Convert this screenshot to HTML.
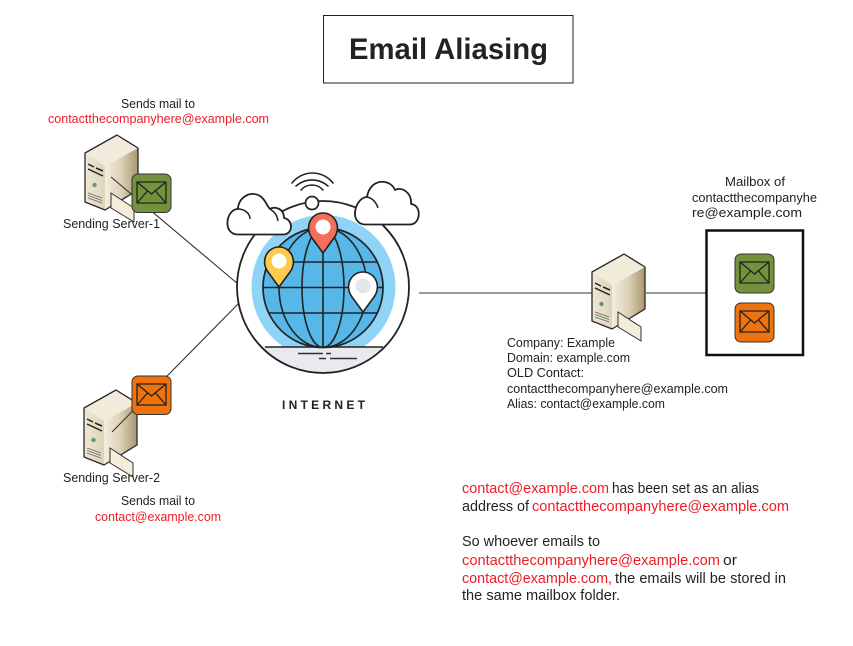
<!DOCTYPE html>
<html><head><meta charset="utf-8"><style>
html,body{margin:0;padding:0;background:#fff}
svg{display:block}
text{font-family:"Liberation Sans",sans-serif;fill:#222}
.s{font-size:13px}.b{font-size:14.8px}.r{fill:#ee1c25}
</style></head><body>
<svg width="853" height="646" viewBox="0 0 853 646" xmlns="http://www.w3.org/2000/svg">
<defs>
<linearGradient id="sf" x1="0" x2="1" y1="0" y2="0"><stop offset="0" stop-color="#efe8d6"/><stop offset="1" stop-color="#ddd3ba"/></linearGradient>
<linearGradient id="ss" x1="0" x2="1" y1="0" y2="0"><stop offset="0" stop-color="#f3eee0"/><stop offset=".5" stop-color="#dcd1b6"/><stop offset="1" stop-color="#a8966f"/></linearGradient>
<g id="srv">
<path d="M20 31 L53 13 L53 55 L20 75Z" fill="url(#ss)"/>
<path d="M0 18 L32 0 L53 13 L20 31Z" fill="#f1ebdb"/>
<path d="M0 18 L20 31 L20 75 L0 67Z" fill="url(#sf)"/>
<path d="M0 18 L32 0 L53 13 L53 55 L20 75 L0 67Z" fill="none" stroke="#2a2a2a" stroke-width="1.300" stroke-linejoin="round"/>
<path d="M3 29 L9 32 M11 33 L18 36 M3 34 L18 41" stroke="#222" stroke-width="1.500" fill="none"/>
<circle cx="9.500" cy="50" r="1.900" fill="#4f9c7c" stroke="#888" stroke-width=".6"/>
<path d="M3 58 L17 63 M3 60.500 L17 65.500 M3 63 L17 68" stroke="#666" stroke-width=".7"/>
<path d="M26 58 L49 73 L49 87 L26 73Z" fill="#f3edd9" stroke="#333" stroke-width="1"/>
</g>
<g id="env">
<path d="M5 8 H34 V29 H5Z M5 8 L19.500 20 L34 8 M5 29 L15.500 17 M34 29 L23.500 17" fill="none" stroke="#222" stroke-width="1.300"/>
</g>
<clipPath id="oc"><circle cx="323" cy="287" r="86"/></clipPath>
<clipPath id="gc"><circle cx="323" cy="287.500" r="60"/></clipPath>
</defs>

<rect x="323.500" y="15.500" width="249.500" height="67.500" fill="#fff" stroke="#222" stroke-width="1"/>
<text x="349" y="59" font-size="30" font-weight="bold" fill="#111" textLength="199" lengthAdjust="spacingAndGlyphs">Email Aliasing</text>

<text class="s" x="121" y="108" textLength="74" lengthAdjust="spacingAndGlyphs">Sends mail to</text>
<text class="s r" x="48" y="123" textLength="221" lengthAdjust="spacingAndGlyphs">contactthecompanyhere@example.com</text>

<use href="#srv" x="85" y="135"/>
<use href="#srv" x="84" y="390"/>
<use href="#srv" x="592" y="254"/>

<g stroke="#333" stroke-width="1.100" fill="none">
<path d="M111 177 L238 284"/>
<path d="M112 432 L239 303"/>
<path d="M419 293 H592"/>
<path d="M646 293 H706"/>
</g>

<rect x="132" y="174" width="39" height="38.500" rx="6" fill="#74923c" stroke="#333" stroke-width="1"/>
<use href="#env" x="132" y="174"/>
<rect x="132" y="376" width="39" height="38.500" rx="6" fill="#ee720e" stroke="#333" stroke-width="1"/>
<use href="#env" x="132" y="376"/>

<text class="s" x="63" y="228" textLength="97" lengthAdjust="spacingAndGlyphs">Sending Server-1</text>
<text class="s" x="63" y="482" textLength="97" lengthAdjust="spacingAndGlyphs">Sending Server-2</text>
<text class="s" x="121" y="505" textLength="74" lengthAdjust="spacingAndGlyphs">Sends mail to</text>
<text class="s r" x="95" y="521" textLength="126" lengthAdjust="spacingAndGlyphs">contact@example.com</text>

<!-- globe -->
<circle cx="323" cy="287" r="86" fill="#fff"/>
<circle cx="323.500" cy="287" r="72" fill="#8fd3f7" clip-path="url(#oc)"/>
<circle cx="323" cy="287.500" r="60" fill="#56b7e8"/>
<rect x="230" y="347" width="190" height="30" fill="#e8eaf0" clip-path="url(#oc)"/>
<g clip-path="url(#gc)" fill="none" stroke="#222" stroke-width="1.600">
<ellipse cx="323" cy="287.500" rx="44" ry="60"/>
<ellipse cx="323" cy="287.500" rx="21" ry="60"/>
<path d="M323 227 V348 M260 262 H386 M260 287.500 H386 M260 313 H386"/>
</g>
<circle cx="323" cy="287.500" r="60" fill="none" stroke="#222" stroke-width="1.700"/>
<path d="M265 347 H383" stroke="#222" stroke-width="1.500"/>
<path d="M298 353.500 H323 M326 353.500 H331 M319 358.500 H326 M330 358.500 H357" stroke="#333" stroke-width="1.500"/>
<circle cx="323" cy="287" r="86" fill="none" stroke="#222" stroke-width="1.800"/>

<!-- wifi -->
<circle cx="312" cy="203" r="6.500" fill="#fff" stroke="#222" stroke-width="1.700"/>
<g fill="none" stroke="#222" stroke-width="1.600" stroke-linecap="round">
<path d="M292 183 A26 26 0 0 1 333 183"/>
<path d="M296 186 A24 24 0 0 1 328 186"/>
<path d="M301 190 A14.600 14.600 0 0 1 323 190"/>
</g>

<!-- clouds -->
<path d="M238 234.500 H283 C293 234.500 294 220 284 218 C284 208 274 206 270 209 C266 205 266 200 260 196 C250 190 238 198 238 209 C226 209 222 234.500 238 234.500Z" fill="#fff" stroke="#222" stroke-width="1.800" stroke-linejoin="round"/>
<path d="M250 219 C250 213 244 209 238 209 M270 209 C276 213 277 216 278 221" fill="none" stroke="#222" stroke-width="1.500"/>
<path d="M364 224.500 H410 C421 224.500 422 205 411 204 C412 194 403 186 395 190 C390 178 370 178 367 197 C356 197 348 222 364 224.500Z" fill="#fff" stroke="#222" stroke-width="1.800" stroke-linejoin="round"/>
<path d="M367 197 C372 198 376 202 378 208" fill="none" stroke="#222" stroke-width="1.500"/>

<!-- pins -->
<path d="M323 253 L312 238 C304 227 311 213 323 213 C335 213 342 227 334 238Z" fill="#f0705a" stroke="#222" stroke-width="1.600" stroke-linejoin="round"/>
<circle cx="323" cy="227" r="7.500" fill="#fff"/>
<path d="M279 287 L268 272 C260 261 267 247 279 247 C291 247 298 261 290 272Z" fill="#fdc94e" stroke="#222" stroke-width="1.600" stroke-linejoin="round"/>
<circle cx="279" cy="261" r="7.500" fill="#fff"/>
<path d="M363 312 L352 297 C344 286 351 272 363 272 C375 272 382 286 374 297Z" fill="#fff" stroke="#222" stroke-width="1.600" stroke-linejoin="round"/>
<circle cx="363" cy="286" r="7.500" fill="#e4e6ec"/>

<text x="282" y="409" font-size="12" font-weight="bold" textLength="83" lengthAdjust="spacing">INTERNET</text>

<!-- mailbox -->
<text class="s" x="725" y="186" textLength="60" lengthAdjust="spacingAndGlyphs">Mailbox of</text>
<text class="s" x="692" y="202" textLength="125" lengthAdjust="spacingAndGlyphs">contactthecompanyhe</text>
<text class="s" x="692" y="217" textLength="110" lengthAdjust="spacingAndGlyphs">re@example.com</text>
<rect x="706.500" y="230.500" width="96.500" height="124.500" fill="#fff" stroke="#111" stroke-width="2.500"/>
<rect x="735" y="254" width="39" height="39" rx="6" fill="#74923c" stroke="#333" stroke-width="1"/>
<use href="#env" x="735" y="254"/>
<rect x="735" y="303" width="39" height="39" rx="6" fill="#ee720e" stroke="#333" stroke-width="1"/>
<use href="#env" x="735" y="303"/>

<text class="s" x="507" y="347" textLength="108" lengthAdjust="spacingAndGlyphs">Company: Example</text>
<text class="s" x="507" y="362" textLength="123" lengthAdjust="spacingAndGlyphs">Domain: example.com</text>
<text class="s" x="507" y="377" textLength="77" lengthAdjust="spacingAndGlyphs">OLD Contact:</text>
<text class="s" x="507" y="393" textLength="221" lengthAdjust="spacingAndGlyphs">contactthecompanyhere@example.com</text>
<text class="s" x="507" y="408" textLength="158" lengthAdjust="spacingAndGlyphs">Alias: contact@example.com</text>

<text class="b r" x="462" y="493" textLength="147" lengthAdjust="spacingAndGlyphs">contact@example.com</text>
<text class="b" x="612" y="493" textLength="147" lengthAdjust="spacingAndGlyphs">has been set as an alias</text>
<text class="b" x="462" y="511" textLength="67" lengthAdjust="spacingAndGlyphs">address of</text>
<text class="b r" x="532" y="511" textLength="257" lengthAdjust="spacingAndGlyphs">contactthecompanyhere@example.com</text>
<text class="b" x="462" y="546" textLength="138" lengthAdjust="spacingAndGlyphs">So whoever emails to</text>
<text class="b r" x="462" y="565" textLength="258" lengthAdjust="spacingAndGlyphs">contactthecompanyhere@example.com</text>
<text class="b" x="723" y="565" textLength="14" lengthAdjust="spacingAndGlyphs">or</text>
<text class="b r" x="462" y="583" textLength="150" lengthAdjust="spacingAndGlyphs">contact@example.com,</text>
<text class="b" x="615" y="583" textLength="171" lengthAdjust="spacingAndGlyphs">the emails will be stored in</text>
<text class="b" x="462" y="600" textLength="158" lengthAdjust="spacingAndGlyphs">the same mailbox folder.</text>
</svg>
</body></html>
